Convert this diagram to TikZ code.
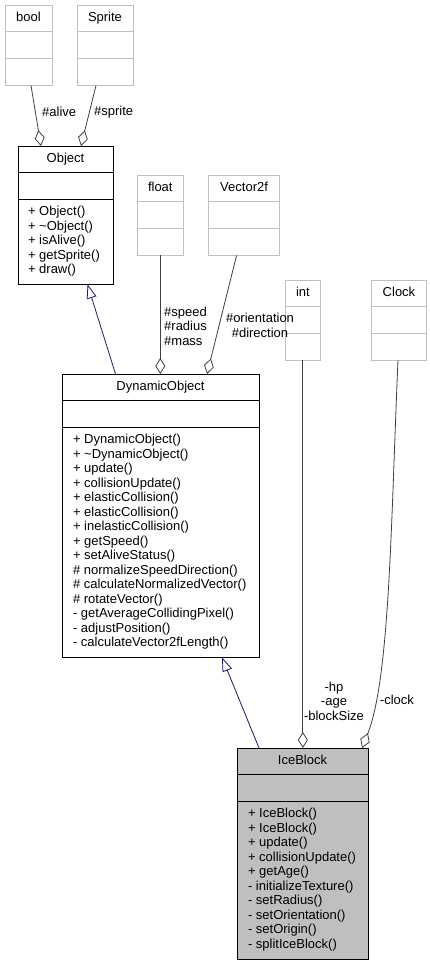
\documentclass[tikz,border=0pt]{standalone}
\usepackage{fontspec}
\setmainfont{Liberation Sans}
\usetikzlibrary{positioning, arrows.meta, shapes.multipart}
\definecolor{edgegray}{HTML}{404040}
\definecolor{boxgray}{HTML}{BFBFBF}
\definecolor{inhblue}{HTML}{191970}

\begin{document}
\begin{tikzpicture}[x=1pt, y=-1pt,
      every node/.style={font=\fontsize{13}{14.5}\selectfont},
      cls/.style={draw=black, line width=0.8pt, rectangle split, rectangle split parts=3,
                  rectangle split part align={center,center,left}, align=left,
                  inner xsep=11pt, inner ysep=5.75pt, outer sep=0pt, anchor=north west},
      ext/.style={cls, draw=boxgray},
      agg/.style={-{Diamond[open, length=16pt, width=10pt]}, line width=0.8pt, edgegray},
      inh/.style={-{Triangle[open, length=14pt, width=10pt]}, line width=0.8pt, inhblue},
      lbl/.style={inner sep=0pt, align=center}]
    \useasboundingbox (0,0) rectangle (429,963);
    % external types
    \node[ext, minimum width=47pt] (bool) at (5,5)
      {\strut bool\nodepart{second}\strut\nodepart{third}\strut};
    \node[ext, minimum width=56pt, right=25pt of bool] (sprite)
      {\strut Sprite\nodepart{second}\strut\nodepart{third}\strut};
    \node[ext, minimum width=46pt] (flt) at (137,175)
      {\strut float\nodepart{second}\strut\nodepart{third}\strut};
    \node[ext, minimum width=71pt, right=25pt of flt] (vec)
      {\strut Vector2f\nodepart{second}\strut\nodepart{third}\strut};
    \node[ext, minimum width=32pt] (intg) at (285,280)
      {\strut int\nodepart{second}\strut\nodepart{third}\strut};
    \node[ext, minimum width=48pt, right=51pt of intg] (clock)
      {\strut Clock\nodepart{second}\strut\nodepart{third}\strut};
    % classes
    \node[cls, minimum width=95pt, inner xsep=10pt] (obj) at (18,146)
      {\strut Object\nodepart{second}\strut
       \nodepart{third}\strut + Object()\\+ \textasciitilde Object()\\+ isAlive()\\
       + getSprite()\\+ draw()\strut};
    \node[cls, minimum width=197pt] (dyn) at (62,374)
      {\strut DynamicObject\nodepart{second}\strut
       \nodepart{third}\strut + DynamicObject()\\+ \textasciitilde DynamicObject()\\
       + update()\\+ collisionUpdate()\\+ elasticCollision()\\+ elasticCollision()\\
       + inelasticCollision()\\+ getSpeed()\\+ setAliveStatus()\\
       \# normalizeSpeedDirection()\\\# calculateNormalizedVector()\\\# rotateVector()\\
       - getAverageCollidingPixel()\\- adjustPosition()\\- calculateVector2fLength()\strut};
    \node[cls, minimum width=131pt, fill=boxgray] (ice) at (237,748)
      {\strut IceBlock\nodepart{second}\strut
       \nodepart{third}\strut + IceBlock()\\+ IceBlock()\\+ update()\\+ collisionUpdate()\\
       + getAge()\\- initializeTexture()\\- setRadius()\\- setOrientation()\\
       - setOrigin()\\- splitIceBlock()\strut};
    % members
    \draw[agg] ([xshift=2.5pt]bool.south) -- ([xshift=-24.5pt]obj.north);
    \draw[agg] ([xshift=-9pt]sprite.south) -- ([xshift=15.5pt]obj.north);
    \draw[agg] (flt.south) -- (flt.south |- dyn.north);
    \draw[agg] ([xshift=-7.5pt]vec.south) -- ([xshift=46.5pt]dyn.north);
    \draw[agg] (intg.south) -- (intg.south |- ice.north);
    \draw[agg] ([xshift=-1pt]clock.south) .. controls (391,520) and (390,678) .. ([xshift=-6pt]ice.north east);
    % inheritance
    \draw[inh] ([xshift=-45pt]dyn.north) -- ([xshift=22pt]obj.south);
    \draw[inh] ([xshift=-43.5pt]ice.north) -- ([xshift=61.5pt]dyn.south);
    % labels
    \node[lbl, anchor=west] (lalive) at (42,112) {\#alive};
    \node[lbl, anchor=west] (lsprite) at (94,112) {\#sprite};
    \node[lbl, align=left, anchor=west] (lflt) at (164,326) {\#speed\\\#radius\\\#mass};
    \node[lbl] (lvec) at (260,325.5) {\#orientation\\\#direction};
    \node[lbl] (lint) at (334,701) {-hp\\-age\\-blockSize};
    \node[lbl] (lclock) at (397,700) {-clock};
  \end{tikzpicture}
\end{document}
